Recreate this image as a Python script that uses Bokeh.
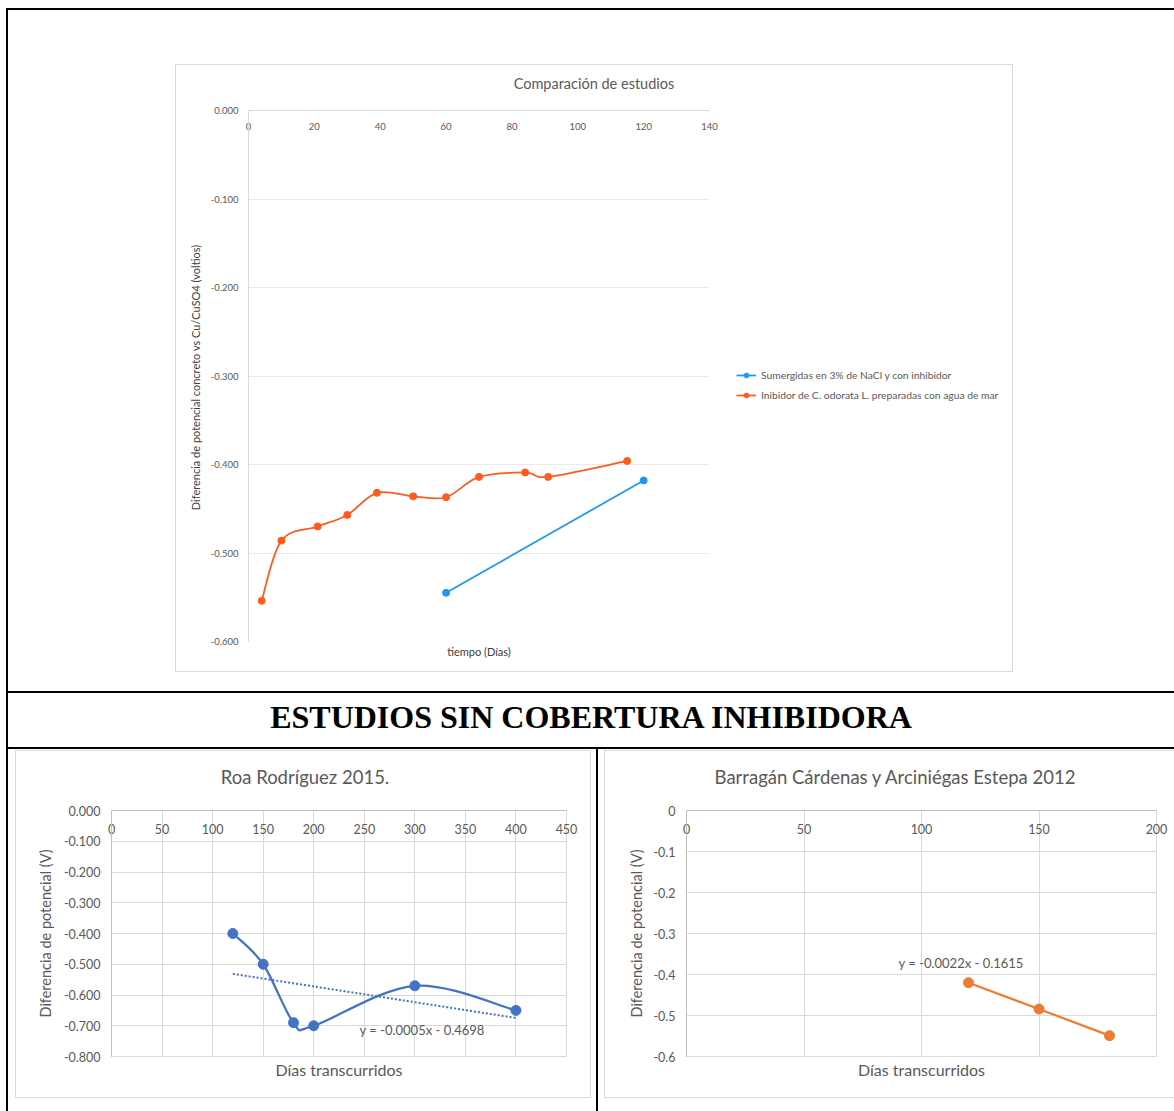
import numpy as np
from bokeh.plotting import figure
from bokeh.models import (LinearAxis, FixedTicker, Legend, LegendItem, Label, Div,
                          Spacer, ColumnDataSource, NumeralTickFormatter)
from bokeh.layouts import column, row
from bokeh.embed import file_html
from bokeh.resources import INLINE

# ---------------- data ----------------
# Comparación de estudios
dias_nacl = [60, 120]
pot_nacl = [-0.545, -0.418]
dias_odorata = [4, 10, 21, 30, 39, 50, 60, 70, 84, 91, 115]
pot_odorata = [-0.554, -0.486, -0.470, -0.457, -0.432, -0.436, -0.437, -0.414, -0.409, -0.414, -0.396]

# Roa Rodríguez 2015
dias_roa = [120, 150, 180, 200, 300, 400]
pot_roa = [-0.400, -0.500, -0.690, -0.700, -0.570, -0.650]

# Barragán Cárdenas y Arciniégas Estepa 2012
dias_barragan = [120, 150, 180]
pot_barragan = [-0.4200, -0.4843, -0.5492]

ticks_x_comp = [0, 20, 40, 60, 80, 100, 120, 140]
ticks_y_comp = [0.0, -0.1, -0.2, -0.3, -0.4, -0.5, -0.6]
ticks_x_roa = [0, 50, 100, 150, 200, 250, 300, 350, 400, 450]
ticks_y_roa = [0.0, -0.1, -0.2, -0.3, -0.4, -0.5, -0.6, -0.7, -0.8]
ticks_x_bar = [0, 50, 100, 150, 200]
ticks_y_bar = [0.0, -0.1, -0.2, -0.3, -0.4, -0.5, -0.6]
labels_y_bar = ["0", "-0.1", "-0.2", "-0.3", "-0.4", "-0.5", "-0.6"]

serie_nacl = "Sumergidas en 3% de NaCl y con inhibidor"
serie_odorata = "Inibidor de C. odorata L. preparadas con agua de mar"

# ---------------- styling ----------------
FONT = "Lato"
TXT = "#595959"
GRID = "#D9D9D9"
ORANGE_TOP = "#FF5B1C"
BLUE_TOP = "#2196F3"
BLUE = "#4472C4"
ORANGE = "#ED7D31"


def bezier_source(xs, ys):
    """Cubic Bezier pieces through the points (smoothed line)."""
    x = np.asarray(xs, float)
    y = np.asarray(ys, float)
    n = len(x)
    xp = np.concatenate([[x[0]], x, [x[-1]]])
    yp = np.concatenate([[y[0]], y, [y[-1]]])
    return ColumnDataSource(dict(
        x0=x[:-1], y0=y[:-1], x1=x[1:], y1=y[1:],
        cx0=x[:-1] + (xp[2:n + 1] - xp[0:n - 1]) / 6,
        cy0=y[:-1] + (yp[2:n + 1] - yp[0:n - 1]) / 6,
        cx1=x[1:] - (xp[3:n + 2] - xp[1:n]) / 6,
        cy1=y[1:] - (yp[3:n + 2] - yp[1:n]) / 6,
    ))


def style_axis(ax, size, standoff):
    ax.major_label_text_font = FONT
    ax.major_label_text_font_size = size
    ax.major_label_text_color = TXT
    ax.major_label_standoff = standoff
    ax.major_tick_in = 0
    ax.major_tick_out = 0
    ax.minor_tick_line_color = None
    ax.major_tick_line_color = None


def title_axis(p, text, size, standoff, color=TXT):
    ax = LinearAxis(axis_label=text, ticker=FixedTicker(ticks=[]),
                    major_label_text_font_size="0px", axis_line_color=None,
                    major_tick_line_color=None, minor_tick_line_color=None,
                    major_label_standoff=0, axis_label_standoff=standoff,
                    axis_label_text_font=FONT, axis_label_text_font_size=size,
                    axis_label_text_color=color, axis_label_text_font_style="normal")
    p.add_layout(ax, "below")


def title_div(text, width, height, size, pad_left=0):
    html = f'<span style="padding-left:{pad_left}px;">{text}</span>'
    return Div(text=html, width=width, height=height, margin=0,
               styles={"font-family": FONT, "font-size": size, "color": TXT,
                       "text-align": "center", "line-height": f"{height}px",
                       "white-space": "nowrap"})


def chart_box(children, open_right=False):
    if open_right:
        shadow = "inset 1px 0 0 #D9D9D9, inset 0 1px 0 #D9D9D9, inset 0 -1px 0 #D9D9D9"
    else:
        shadow = "inset 0 0 0 1px #D9D9D9"
    return column(*children, styles={"box-shadow": shadow, "background-color": "white"})


# ---------------- Comparación de estudios ----------------
W1, H1 = 545, 568
L1, R1, T1, B1 = 73, 11, 6, 31
p1 = figure(width=W1, height=H1, x_range=(0, 140), y_range=(-0.6, 0),
            x_axis_location="above", output_backend="svg", toolbar_location=None,
            min_border_left=L1, min_border_right=R1, min_border_top=T1, min_border_bottom=B1)
p1.border_fill_color = None
p1.outline_line_color = None
p1.xgrid.visible = False
p1.ygrid.ticker = FixedTicker(ticks=ticks_y_comp)
p1.ygrid.grid_line_color = "#EBEBEB"

xa = p1.xaxis[0]
xa.ticker = FixedTicker(ticks=ticks_x_comp)
style_axis(xa, "9.5px", -19)
xa.axis_line_color = GRID

ya = p1.yaxis[0]
ya.ticker = FixedTicker(ticks=ticks_y_comp)
ya.formatter = NumeralTickFormatter(format="0.000")
style_axis(ya, "9.5px", 10)
ya.axis_line_color = GRID
ya.axis_label = "Diferencia de potencial concreto  vs Cu/CuSO4 (voltios)"
ya.axis_label_text_font = FONT
ya.axis_label_text_font_size = "11px"
ya.axis_label_text_font_style = "normal"
ya.axis_label_text_color = "#404040"
ya.axis_label_standoff = 6

title_axis(p1, "tiempo (Días)", "11px", 3, "#404040")

p1.line(dias_nacl, pot_nacl, line_color=BLUE_TOP, line_width=1.75)
p1.scatter(dias_nacl, pot_nacl, size=7, color=BLUE_TOP)
p1.bezier(x0="x0", y0="y0", x1="x1", y1="y1", cx0="cx0", cy0="cy0",
          cx1="cx1", cy1="cy1", source=bezier_source(dias_odorata, pot_odorata),
          line_color=ORANGE_TOP, line_width=1.75)
p1.scatter(dias_odorata, pot_odorata, size=7, color=ORANGE_TOP)

# legend panel to the right of the plot area (same series, hidden glyphs)
WL = 838 - W1
pl = figure(width=WL, height=H1, x_range=(0, 1), y_range=(0, 1),
            x_axis_location=None, y_axis_location=None, output_backend="svg",
            toolbar_location=None, min_border=0)
pl.border_fill_color = None
pl.background_fill_color = None
pl.outline_line_color = None
pl.grid.visible = False
lg_nacl_l = pl.line(dias_nacl, pot_nacl, line_color=BLUE_TOP, line_width=1.75, visible=False)
lg_nacl_m = pl.scatter(dias_nacl, pot_nacl, size=7, color=BLUE_TOP, visible=False)
lg_od_l = pl.line(dias_odorata, pot_odorata, line_color=ORANGE_TOP, line_width=1.75, visible=False)
lg_od_m = pl.scatter(dias_odorata, pot_odorata, size=7, color=ORANGE_TOP, visible=False)

legend = Legend(items=[LegendItem(label=serie_nacl, renderers=[lg_nacl_l, lg_nacl_m]),
                       LegendItem(label=serie_odorata, renderers=[lg_od_l, lg_od_m])],
                location=(16, 240), orientation="vertical",
                label_text_font=FONT, label_text_font_size="10.3px", label_text_color=TXT,
                label_height=12, glyph_height=12, glyph_width=20, label_standoff=5,
                spacing=8, padding=0, margin=0, border_line_color=None,
                background_fill_alpha=0, inactive_fill_alpha=0, click_policy="none")
pl.add_layout(legend)

chart1 = chart_box([title_div("Comparación de estudios", 838, 40, "14.5px"), row(p1, pl)])

# ---------------- Roa Rodríguez 2015 ----------------
W2, H2 = 576, 294
L2, R2, T2, B2 = 96, 25, 6, 42
p2 = figure(width=W2, height=H2, x_range=(0, 450), y_range=(-0.8, 0),
            x_axis_location="above", output_backend="svg", toolbar_location=None,
            min_border_left=L2, min_border_right=R2, min_border_top=T2, min_border_bottom=B2)
p2.border_fill_color = None
p2.outline_line_color = GRID
p2.xgrid.ticker = FixedTicker(ticks=ticks_x_roa)
p2.ygrid.ticker = FixedTicker(ticks=ticks_y_roa)
p2.grid.grid_line_color = GRID

xa = p2.xaxis[0]
xa.ticker = FixedTicker(ticks=ticks_x_roa)
style_axis(xa, "12.5px", -23)
xa.axis_line_color = "#BFBFBF"
ya = p2.yaxis[0]
ya.ticker = FixedTicker(ticks=ticks_y_roa)
ya.formatter = NumeralTickFormatter(format="0.000")
style_axis(ya, "12.5px", 11)
ya.axis_line_color = "#BFBFBF"
ya.axis_label = "Diferencia de potencial (V)"
ya.axis_label_text_font = FONT
ya.axis_label_text_font_size = "14.5px"
ya.axis_label_text_font_style = "normal"
ya.axis_label_text_color = TXT
ya.axis_label_standoff = 7
title_axis(p2, "Días transcurridos", "16px", 3)

p2.bezier(x0="x0", y0="y0", x1="x1", y1="y1", cx0="cx0", cy0="cy0",
          cx1="cx1", cy1="cy1", source=bezier_source(dias_roa, pot_roa),
          line_color=BLUE, line_width=2.25)
p2.scatter(dias_roa, pot_roa, size=10, color=BLUE)

m_roa, b_roa = np.polyfit(dias_roa, pot_roa, 1)
xt = np.array([min(dias_roa), max(dias_roa)], float)
p2.line(xt, m_roa * xt + b_roa, line_color=BLUE, line_width=2, line_dash="2 2")
eq_roa = f"y = {m_roa:.4f}x - {abs(b_roa):.4f}"
p2.add_layout(Label(x=248, y=27, x_units="screen", y_units="screen", text=eq_roa,
                    text_font=FONT, text_font_size="13px", text_color=TXT,
                    text_align="left", text_baseline="middle"))

chart2 = chart_box([title_div("Roa Rodríguez 2015.", W2, 54, "18.5px", pad_left=4), p2])

# ---------------- Barragán Cárdenas y Arciniégas Estepa 2012 ----------------
W3, H3 = 570, 294
L3, R3, T3, B3 = 82, 18, 6, 42
p3 = figure(width=W3, height=H3, x_range=(0, 200), y_range=(-0.6, 0),
            x_axis_location="above", output_backend="svg", toolbar_location=None,
            min_border_left=L3, min_border_right=R3, min_border_top=T3, min_border_bottom=B3)
p3.border_fill_color = None
p3.outline_line_color = GRID
p3.xgrid.ticker = FixedTicker(ticks=ticks_x_bar)
p3.ygrid.ticker = FixedTicker(ticks=ticks_y_bar)
p3.grid.grid_line_color = GRID

xa = p3.xaxis[0]
xa.ticker = FixedTicker(ticks=ticks_x_bar)
style_axis(xa, "12.5px", -23)
xa.axis_line_color = "#BFBFBF"
ya = p3.yaxis[0]
ya.ticker = FixedTicker(ticks=ticks_y_bar)
ya.major_label_overrides = {t: s for t, s in zip(ticks_y_bar, labels_y_bar)}
style_axis(ya, "12.5px", 11)
ya.axis_line_color = "#BFBFBF"
ya.axis_label = "Diferencia de potencial (V)"
ya.axis_label_text_font = FONT
ya.axis_label_text_font_size = "14.5px"
ya.axis_label_text_font_style = "normal"
ya.axis_label_text_color = TXT
ya.axis_label_standoff = 5
title_axis(p3, "Días transcurridos", "16px", 3)

p3.line(dias_barragan, pot_barragan, line_color=ORANGE, line_width=2.25)
p3.scatter(dias_barragan, pot_barragan, size=10, color=ORANGE)

m_bar, b_bar = np.polyfit(dias_barragan, pot_barragan, 1)
eq_bar = f"y = {m_bar:.4f}x - {abs(b_bar):.4f}"
p3.add_layout(Label(x=212, y=94, x_units="screen", y_units="screen", text=eq_bar,
                    text_font=FONT, text_font_size="13px", text_color=TXT,
                    text_align="left", text_baseline="middle"))

chart3 = chart_box([title_div("Barragán Cárdenas y Arciniégas Estepa 2012", W3, 54, "18.5px",
                              pad_left=12), p3], open_right=True)

# ---------------- page (table layout) ----------------
PAGE_W, PAGE_H = 1174, 1111


def bar(w, h):
    return Div(text="", width=w, height=h, margin=0, styles={"background-color": "black"})


heading = Div(text="ESTUDIOS SIN COBERTURA INHIBIDORA", width=1166, height=48, margin=0,
              styles={"font-family": "'Liberation Serif', serif", "font-weight": "bold",
                      "font-size": "32px", "text-align": "center", "line-height": "36px",
                      "color": "black"})

body = column(
    column(Spacer(width=1166, height=54), row(Spacer(width=167, height=608), chart1),
           Spacer(width=1166, height=19)),
    bar(1166, 2),
    column(Spacer(width=1166, height=6), heading),
    bar(1166, 2),
    row(Spacer(width=7, height=362), column(Spacer(width=W2, height=1), chart2),
        Spacer(width=5, height=362), bar(2, 362), Spacer(width=6, height=362),
        column(Spacer(width=W3, height=1), chart3)),
)

page = column(
    Spacer(width=PAGE_W, height=8),
    row(Spacer(width=6, height=2), bar(1168, 2)),
    row(Spacer(width=6, height=1101), bar(2, 1101), body),
)

open("out.html", "w").write(file_html(page, INLINE, title="Comparación de estudios"))
